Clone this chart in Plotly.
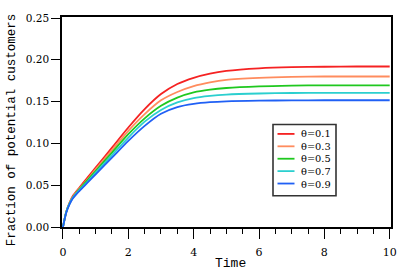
import plotly.graph_objects as go

time = [0, 0.1, 0.2, 0.3, 0.5, 0.75, 1.0, 1.5, 2.0, 2.5, 3.0, 3.5, 4.0, 4.5, 5.0, 6.0, 7.0, 8.0, 9.0, 10.0]
theta_01 = [0, 0.018, 0.029, 0.037, 0.047, 0.059, 0.071, 0.095, 0.119, 0.141, 0.159, 0.171, 0.1785, 0.1835, 0.1867, 0.1898, 0.1912, 0.1917, 0.192, 0.192]
theta_03 = [0, 0.018, 0.029, 0.036, 0.046, 0.057, 0.069, 0.092, 0.115, 0.135, 0.1515, 0.1615, 0.1685, 0.173, 0.176, 0.1783, 0.1795, 0.180, 0.180, 0.180]
theta_05 = [0, 0.018, 0.028, 0.035, 0.045, 0.056, 0.067, 0.089, 0.111, 0.130, 0.145, 0.1548, 0.161, 0.1643, 0.1663, 0.1682, 0.1691, 0.1695, 0.1695, 0.1695]
theta_07 = [0, 0.018, 0.028, 0.035, 0.044, 0.054, 0.065, 0.086, 0.107, 0.126, 0.140, 0.149, 0.1542, 0.1568, 0.1584, 0.1597, 0.1603, 0.1605, 0.1605, 0.1605]
theta_09 = [0, 0.017, 0.027, 0.034, 0.043, 0.053, 0.063, 0.083, 0.103, 0.121, 0.1355, 0.1435, 0.1473, 0.1493, 0.1503, 0.1511, 0.1515, 0.1516, 0.1516, 0.1516]

series_names = ["θ=0.1", "θ=0.3", "θ=0.5", "θ=0.7", "θ=0.9"]
series_values = [theta_01, theta_03, theta_05, theta_07, theta_09]
colors = ["#f52222", "#ff8c5e", "#1fc81f", "#2bcfcf", "#2060f5"]

y_ticks = [0.00, 0.05, 0.10, 0.15, 0.20, 0.25]
y_ticklabels = ["0.00", "0.05", "0.10", "0.15", "0.20", "0.25"]
x_ticks = [0, 2, 4, 6, 8, 10]

W, H = 415, 273
ML, MR, MT, MB = 62, 24, 12, 46
PW, PH = W - ML - MR, H - MT - MB


def px(x):
    return (x - ML) / PW


def py(y):
    return (H - MB - y) / PH


fig = go.Figure()
for name, vals, c in zip(series_names, series_values, colors):
    fig.add_trace(go.Scatter(x=time, y=vals, mode="lines", name=name,
                             line=dict(color=c, width=1.8, shape="spline", smoothing=0.8),
                             showlegend=False))

mono = "Liberation Mono"
serif = "DejaVu Serif"
fig.update_layout(
    width=W, height=H,
    margin=dict(l=ML, r=MR, t=MT, b=MB),
    paper_bgcolor="white", plot_bgcolor="white",
    font=dict(family=serif, color="black", size=11),
)
fig.update_xaxes(range=[-0.03, 10.04], tickvals=x_ticks, ticks="outside", ticklen=10, tickwidth=1.3,
                 tickcolor="black", showline=True, linecolor="black", linewidth=1.6, mirror=True,
                 showgrid=False, zeroline=False, ticklabelstandoff=4,
                 tickfont=dict(family=serif, size=11),
                 minor=dict(dtick=0.5, ticks="outside", ticklen=5, tickwidth=1.3, tickcolor="black", showgrid=False))
fig.update_yaxes(range=[0, 0.2512], tickvals=y_ticks, ticktext=y_ticklabels, ticks="outside", ticklen=9,
                 tickwidth=1.3, tickcolor="black", showline=True, linecolor="black", linewidth=1.6,
                 mirror=True, showgrid=False, zeroline=False,
                 tickfont=dict(family=serif, size=10.5))

annotations = [
    dict(text="Time", x=px(230), y=py(264), xref="paper", yref="paper", showarrow=False,
         font=dict(family=mono, size=13), xanchor="center", yanchor="middle"),
    dict(text="Fraction of potential customers", x=px(12), y=py(128), xref="paper", yref="paper",
         showarrow=False, textangle=-90, font=dict(family=mono, size=12.5),
         xanchor="center", yanchor="middle"),
]

shapes = [dict(type="rect", xref="paper", yref="paper", x0=px(273), x1=px(336), y0=py(195), y1=py(122),
               line=dict(color="#333333", width=1.6), fillcolor="white", layer="above")]
row_y = [131.7, 144.4, 157.1, 169.8, 182.5]
for c, yy in zip(colors, row_y):
    shapes.append(dict(type="line", xref="paper", yref="paper", x0=px(277.5), x1=px(294.5),
                       y0=py(yy), y1=py(yy), line=dict(color=c, width=1.8), layer="above"))
annotations.append(dict(text="<br>".join(series_names), x=px(300), y=py((row_y[0] + row_y[-1]) / 2),
                        xref="paper", yref="paper", showarrow=False, align="left",
                        xanchor="left", yanchor="middle", borderpad=0,
                        font=dict(family=serif, size=9.8)))

fig.update_layout(annotations=annotations, shapes=shapes)
fig.write_html("out.html", config={"displayModeBar": False},
               post_script="document.body.style.margin='0';document.body.style.padding='0';")
